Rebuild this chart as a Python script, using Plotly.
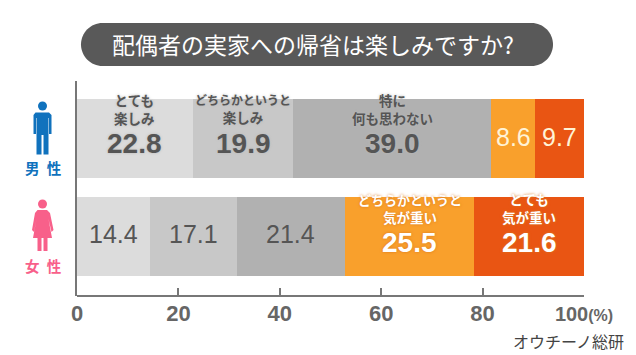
import plotly.graph_objects as go

REF_W, REF_H = 636, 355
PAGE = 8  # default page margin of the HTML body
W, H = REF_W - PAGE, REF_H - PAGE
groups = ["男性", "女性"]
series_names = ["とても楽しみ", "どちらかというと楽しみ", "特に何も思わない", "どちらかというと気が重い", "とても気が重い"]
male = [22.8, 19.9, 39.0, 8.6, 9.7]
female = [14.4, 17.1, 21.4, 25.5, 21.6]
colors = ["#dcdcdc", "#c8c8c8", "#b1b1b1", "#f9a02c", "#e95513"]
male_labels = [["とても", "楽しみ"], ["どちらかというと", "楽しみ"], ["特に", "何も思わない"], [], []]
female_labels = [[], [], [], ["どちらかというと", "気が重い"], ["とても", "気が重い"]]
tick_vals = [0, 20, 40, 60, 80, 100]
tick_text = ["0", "20", "40", "60", "80", "<span style='font-size:20px'>100</span><span style='font-size:16px'>(%)</span>"]
title = "配偶者の実家への帰省は楽しみですか?"
source = "オウチーノ総研"

JP = "Noto Sans CJK JP"
LAT = "Liberation Sans"
DARK = "#555555"
HALO_G = "0 0 3px #b8b8b8"
HALO_O = "0 0 3px #d9761e"

def px(x):
    return (x - PAGE) / W

def py(y):
    return 1 - (y - PAGE) / H

fig = go.Figure()
for i, name in enumerate(series_names):
    fig.add_trace(go.Bar(
        name=name, y=groups, x=[male[i], female[i]], orientation="h",
        marker=dict(color=colors[i], line_width=0), width=0.806,
        hoverinfo="skip", showlegend=False,
    ))

ann = []
def row_annotations(values, labels, cat, label_shift, value_shift, plain_shift, long_size):
    cum = 0
    for i, v in enumerate(values):
        mid = cum + v / 2
        cum += v
        bold = bool(labels[i])
        light = i >= 3
        col = "#ffffff" if (light and bold) else ("#fff3d6" if light else DARK)
        shadow = "none"
        if bold:
            shadow = HALO_O if light else HALO_G
            lines = [f"<span style='font-size:{long_size}px'>{t}</span>" if len(t) >= 8 else t for t in labels[i]]
            ann.append(dict(x=mid, y=cat, xref="x", yref="y", yshift=label_shift,
                            text="<b>" + "<br>".join(lines) + "</b>", showarrow=False, align="center",
                            font=dict(family=JP, size=13.5, color=col, shadow=shadow),
                            yanchor="middle", xanchor="center"))
        txt = f"<b>{v:.1f}</b>" if bold else f"{v:.1f}"
        ann.append(dict(x=mid, y=cat, xref="x", yref="y", yshift=value_shift if bold else plain_shift,
                        text=txt, showarrow=False,
                        font=dict(family=LAT, size=28 if bold else 25, color=col, shadow=shadow),
                        yanchor="middle", xanchor="center"))

row_annotations(male, male_labels, groups[0], 29.5, -5, 1.5, 12)
row_annotations(female, female_labels, groups[1], 28.5, -5.5, 2.5, 13)

def paper_text(x, y, text, size, color, xanchor="center"):
    ann.append(dict(x=px(x), y=py(y), xref="paper", yref="paper", text=text, showarrow=False,
                    xanchor=xanchor, yanchor="middle", font=dict(family=JP, size=size, color=color)))

BLUE = "#1072bd"
PINK = "#f8608a"
paper_text(313, 44, title, 23, "#ffffff")
paper_text(626, 341, source, 16, "#444444", "right")
paper_text(43, 167, "<b>男\u2002性</b>", 14.5, BLUE)
paper_text(43, 265, "<b>女\u2002性</b>", 14.5, PINK)

def pill(x0, x1, y0, y1):
    r = (y1 - y0) / 2
    return (f"M {px(x0+r)} {py(y0)} L {px(x1-r)} {py(y0)} "
            f"C {px(x1-r*0.45)} {py(y0)} {px(x1)} {py(y0+r*0.45)} {px(x1)} {py(y0+r)} "
            f"C {px(x1)} {py(y1-r*0.45)} {px(x1-r*0.45)} {py(y1)} {px(x1-r)} {py(y1)} "
            f"L {px(x0+r)} {py(y1)} "
            f"C {px(x0+r*0.45)} {py(y1)} {px(x0)} {py(y1-r*0.45)} {px(x0)} {py(y0+r)} "
            f"C {px(x0)} {py(y0+r*0.45)} {px(x0+r*0.45)} {py(y0)} {px(x0+r)} {py(y0)} Z")

def poly(points):
    return "M " + " L ".join(f"{px(a)} {py(b)}" for a, b in points) + " Z"

def head(cx, cy, r, color):
    return dict(type="circle", xref="paper", yref="paper", x0=px(cx-r), x1=px(cx+r), y0=py(cy+r), y1=py(cy-r),
                fillcolor=color, line_width=0)

man = [(35.5, 112.5), (49, 112.5), (51.5, 115), (51.5, 134), (49, 134), (49, 118), (48.5, 118), (48.5, 154.5), (43.5, 154.5),
       (43.5, 135), (41.5, 135), (41.5, 154.5), (36.5, 154.5), (36.5, 118), (36, 118), (36, 134), (33.5, 134), (33.5, 115)]
woman = [(37.5, 210), (47, 210), (50, 213), (53.5, 230), (51.5, 232), (48.5, 219), (52, 238), (47.5, 238), (47.5, 251),
         (43.5, 251), (43.5, 238), (41.5, 238), (41.5, 251), (37.5, 251), (37.5, 238), (33, 238), (36.5, 219), (34, 232), (32, 230), (35, 213)]
shapes = [
    dict(type="path", xref="paper", yref="paper", path=pill(81, 553, 23, 66), fillcolor="#595959", line_width=0, layer="below"),
    head(42.5, 106, 4.5, BLUE),
    dict(type="path", xref="paper", yref="paper", path=poly(man), fillcolor=BLUE, line_width=0),
    head(42.5, 204, 4.5, PINK),
    dict(type="path", xref="paper", yref="paper", path=poly(woman), fillcolor=PINK, line_width=0),
    dict(type="line", xref="paper", yref="paper", x0=px(76), x1=px(76), y0=py(81), y1=py(296),
         line=dict(color="#777777", width=2)),
]

fig.update_layout(
    width=W, height=H, autosize=False, barmode="stack", bargap=0,
    margin=dict(l=0, r=0, t=0, b=0, autoexpand=False), paper_bgcolor="#ffffff", plot_bgcolor="rgba(0,0,0,0)",
    xaxis=dict(domain=[px(77), px(584)], range=[0, 100], tickvals=tick_vals, ticktext=tick_text,
               ticks="inside", ticklen=7, tickwidth=1.5, tickcolor="#777777", automargin=False,
               ticklabelstandoff=-2,
               showline=True, linecolor="#777777", linewidth=2, showgrid=False, zeroline=False,
               tickfont=dict(family=LAT, size=22, color="#666666", weight="bold"), anchor="y"),
    yaxis=dict(domain=[py(295), py(81)], type="category", categoryorder="array", categoryarray=groups,
               range=[1.597, -0.587], showticklabels=False, ticks="", showgrid=False, zeroline=False,
               showline=False, automargin=False),
    annotations=ann, shapes=shapes,
)
fig.write_html("out.html")
